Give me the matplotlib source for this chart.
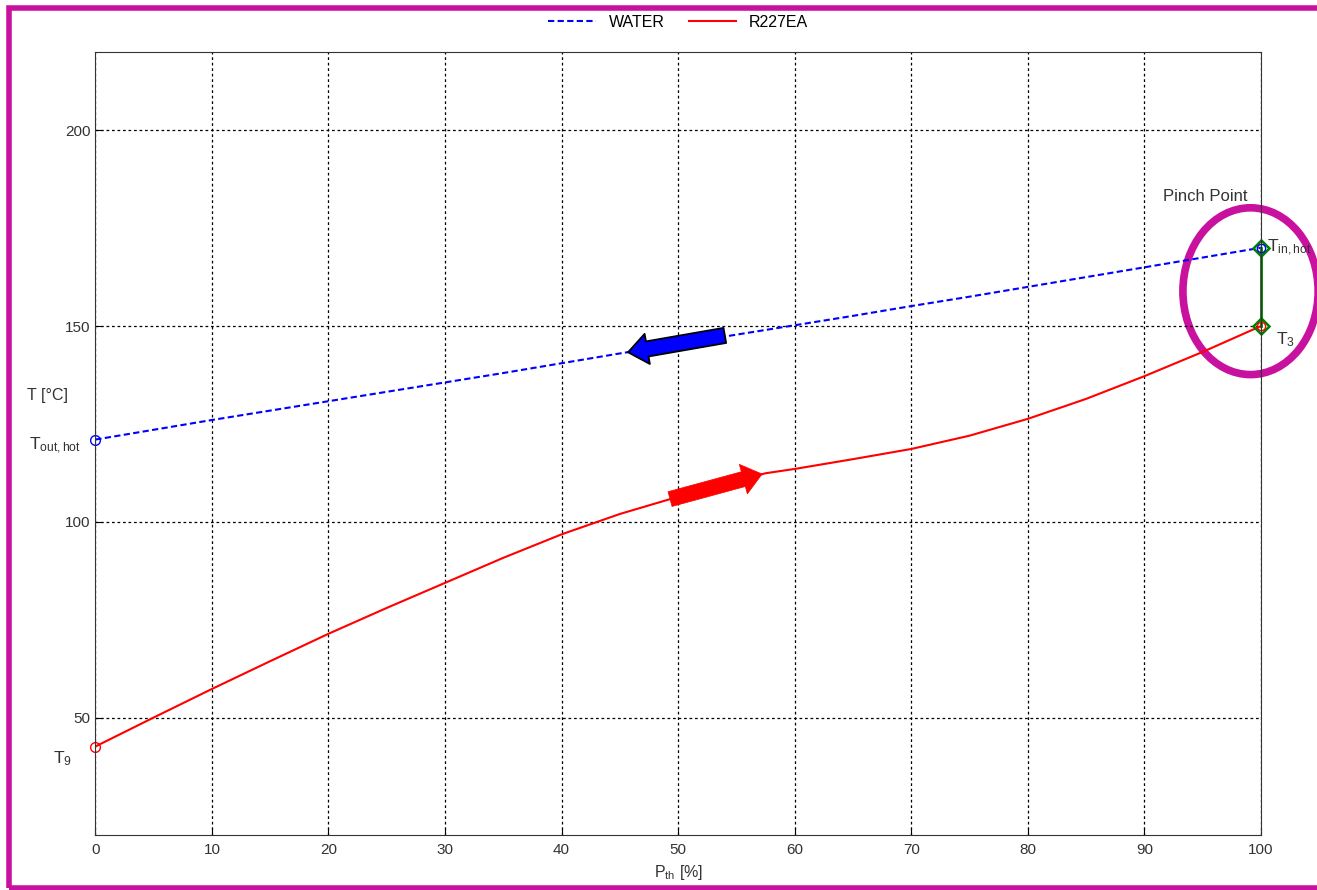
import numpy as np
import matplotlib
matplotlib.use('Agg')
import matplotlib.pyplot as plt
from matplotlib.patches import Ellipse, Rectangle

# thermal power share [%]
p_th = [0, 5, 10, 15, 20, 25, 30, 35, 40, 45, 50, 55, 57.5, 60, 65, 70, 75, 80, 85, 90, 95, 100]
# hot side (water), cools down from right to left
t_water = [121.0, 123.5, 126.0, 128.4, 130.8, 133.2, 135.6, 138.0, 140.5, 143.0, 145.4,
           147.8, 149.0, 150.2, 152.6, 155.1, 157.5, 160.0, 162.5, 165.0, 167.5, 170.0]
# working fluid R227EA, heats up from left to right
t_r227 = [42.6, 50.0, 57.3, 64.4, 71.4, 78.0, 84.4, 90.8, 96.8, 102.0, 106.4,
          110.4, 112.4, 113.5, 116.0, 118.6, 122.0, 126.3, 131.4, 137.2, 143.4, 150.0]

x_ticks = [0, 10, 20, 30, 40, 50, 60, 70, 80, 90, 100]
y_ticks = [50, 100, 150, 200]

plt.rcParams['font.family'] = ['Liberation Sans', 'DejaVu Sans']
plt.rcParams['mathtext.fontset'] = 'custom'
plt.rcParams['mathtext.rm'] = 'Liberation Sans'
plt.rcParams['mathtext.it'] = 'Liberation Sans'

fig = plt.figure(figsize=(13.17, 8.9), dpi=100)
ax = fig.add_axes([0.0724, 0.0618, 0.8851, 0.8798])

ax.plot(p_th, t_water, color='blue', lw=1.5, dashes=(3, 1.6), label='WATER')
ax.plot(p_th, t_r227, color='red', lw=1.5, label='R227EA')

# end points
ax.plot(p_th[0], t_water[0], 'o', mfc='none', mec='blue', ms=7, clip_on=False)
ax.plot(p_th[0], t_r227[0], 'o', mfc='none', mec='red', ms=7, clip_on=False)

# pinch point marker
ax.plot([p_th[-1], p_th[-1]], [t_r227[-1], t_water[-1]], color='green', lw=2, clip_on=False)
ax.plot([p_th[-1]] * 2, [t_water[-1], t_r227[-1]], 'D', mfc='none', mec='green', ms=8.5, mew=1.8, clip_on=False)
ax.plot(p_th[-1], t_water[-1], 'o', mfc='none', mec='blue', ms=6, clip_on=False)
ax.plot(p_th[-1], t_r227[-1], 'o', mfc='none', mec='red', ms=6, clip_on=False)

# flow direction arrows
arrow_style = 'simple,head_width=2.2,head_length=1.4,tail_width=1.1'
ax.annotate('', xy=(45.7, 143.3), xytext=(54.0, 147.6),
            arrowprops=dict(arrowstyle=arrow_style, fc='blue', ec='black', lw=1.3,
                            shrinkA=0, shrinkB=0), annotation_clip=False)
ax.annotate('', xy=(57.2, 112.2), xytext=(49.3, 105.8),
            arrowprops=dict(arrowstyle=arrow_style, fc='red', ec='red', lw=0.5,
                            shrinkA=0, shrinkB=0), annotation_clip=False)

ax.add_patch(Ellipse((99.1, 158.9), 11.6, 42.6, fill=False, ec='#c8119e', lw=5.5, clip_on=False))

ax.text(95.2, 183.0, 'Pinch Point', fontsize=12, color='#333333', ha='center', va='center')
ax.text(100.5, 170.0, r'T$_{\mathrm{in,hot}}$', fontsize=12.5, color='#333333', ha='left', va='center')
ax.text(101.3, 146.5, r'T$_3$', fontsize=12.5, color='#333333', ha='left', va='center')
ax.text(-1.2, 119.5, r'T$_{\mathrm{out,hot}}$', fontsize=12.5, color='#333333', ha='right', va='center')
ax.text(-2.8, 39.5, r'T$_9$', fontsize=12.5, color='#333333', ha='center', va='center')

ax.set_xlim(0, 100)
ax.set_ylim(20, 220)
ax.set_xticks(x_ticks)
ax.set_yticks(y_ticks)
ax.tick_params(direction='in', length=5, labelsize=11, labelcolor='#333333')
ax.tick_params(axis='x', pad=6)
ax.grid(True, color='black', ls=(0, (2.2, 2.2)), lw=0.9)
for s in ax.spines.values():
    s.set_color('#333333')

ax.set_xlabel(r'P$_{\mathrm{th}}$ [%]', fontsize=11.5, color='#333333', labelpad=4)
ax.set_ylabel('T [°C]', fontsize=11.5, color='#333333', rotation=0, va='center', ha='center')
ax.yaxis.set_label_coords(-0.041, 0.561)

ax.legend(loc='lower center', bbox_to_anchor=(0.5, 1.008), ncol=2, frameon=False,
          fontsize=11.5, handlelength=3.0, columnspacing=1.5, borderaxespad=0.6)

fig.add_artist(Rectangle((8.5 / 1317, 1 - 888 / 890), 1.05, (888 - 8) / 890,
                         transform=fig.transFigure, fill=False, ec='#c8119e', lw=4))

fig.savefig('out.png', dpi=100)
